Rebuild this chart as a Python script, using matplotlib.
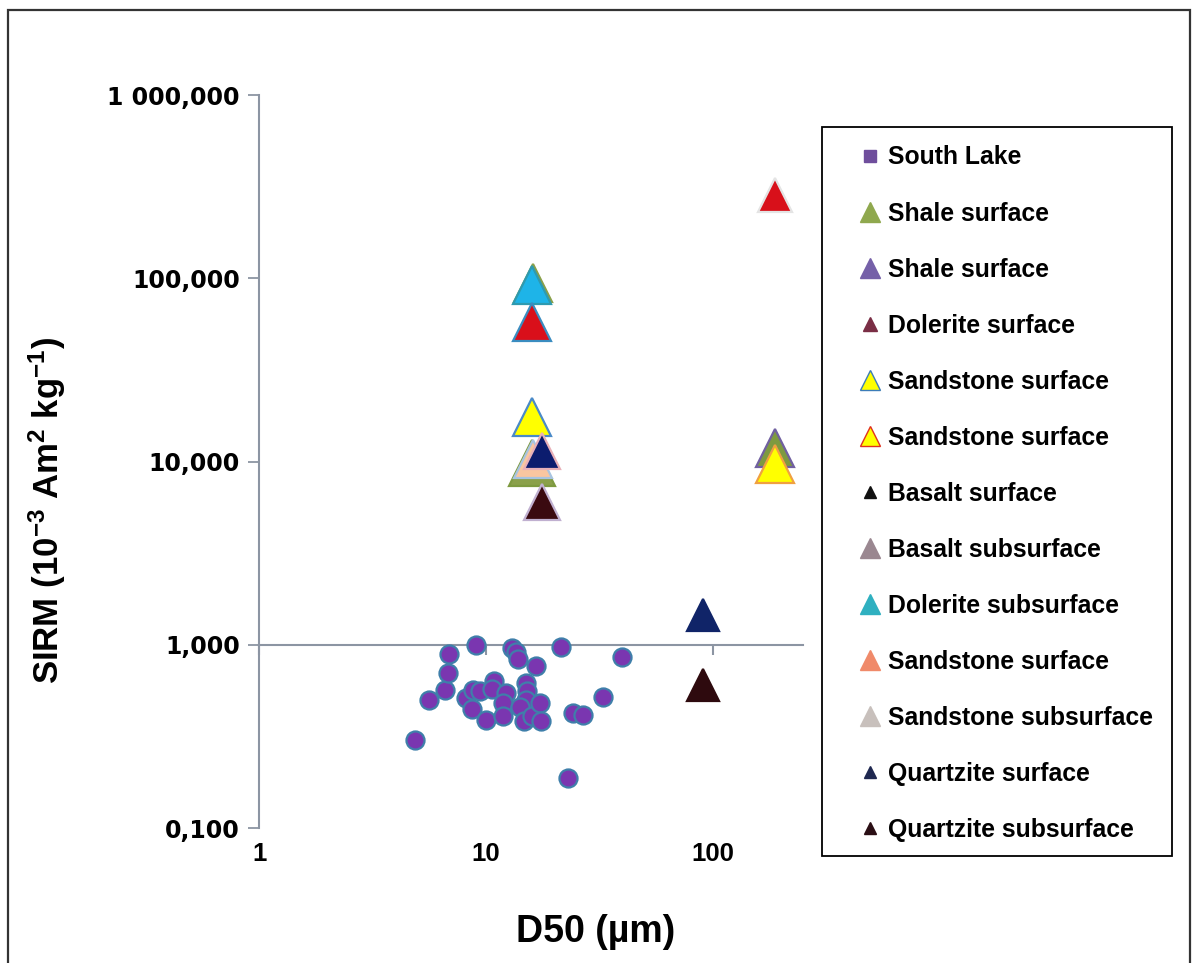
import matplotlib
matplotlib.use("Agg")
import matplotlib.pyplot as plt
from matplotlib.lines import Line2D
from matplotlib.patches import Rectangle
from matplotlib.ticker import NullLocator

plt.rcParams['mathtext.fontset'] = 'custom'
plt.rcParams['mathtext.rm'] = 'Liberation Sans:bold'
plt.rcParams['mathtext.it'] = 'Liberation Sans:bold'
plt.rcParams['mathtext.bf'] = 'Liberation Sans:bold'

# South Lake sediments (D50 in um, SIRM)
lake_d50 = [4.85, 5.63, 6.56, 6.79, 6.90, 9.05, 8.18, 8.66, 8.75, 9.43,
            9.95, 10.79, 10.65, 12.24, 11.83, 11.88, 13.01, 13.60, 13.83, 16.66,
            15.01, 15.16, 15.01, 14.16, 14.75, 15.95, 17.23, 17.53, 21.48, 24.19,
            26.78, 22.99, 32.81, 39.65]
lake_sirm = [0.303, 0.50, 0.568, 0.70, 0.89, 1.0, 0.515, 0.445, 0.568, 0.561,
             0.389, 0.636, 0.573, 0.544, 0.480, 0.409, 0.96, 0.919, 0.835, 0.771,
             0.622, 0.563, 0.50, 0.46, 0.384, 0.409, 0.484, 0.384, 0.979, 0.423,
             0.414, 0.189, 0.518, 0.857]

# rock samples, in drawing order
rock_d50 = [16.1, 16.0, 16.0, 16.0, 16.0, 16.1, 17.6, 17.6, 189, 189, 189, 90.7, 90.7]
rock_sirm = [94.5, 9.87, 92.0, 57.5, 17.5, 10.3, 11.5, 6.04, 284, 11.9, 9.67, 1.46, 0.606]
rock_fill = ['#8AA04A', '#8AA04A', '#1EB4E8', '#D90F1A', '#FFFF00', '#F9C6A0',
             '#0C1C6E', '#3A0A10', '#D8101A', '#7E9A40', '#FFFF00', '#102468', '#2E0A0E']
rock_edge = ['#8AA04A', '#7E9A40', '#2E9AB0', '#3A8CC0', '#4A8AC8', '#A8C4E0',
             '#E8B0B8', '#C0B0D0', '#E4E4E4', '#7060A0', '#F0A040', '#102468', '#2E0A0E']
rock_size = [28, 33, 27, 27, 27, 28, 26, 26, 24, 28, 27, 23, 23]

legend_labels = ['South Lake', 'Shale surface', 'Shale surface', 'Dolerite surface',
                 'Sandstone surface', 'Sandstone surface', 'Basalt surface',
                 'Basalt subsurface', 'Dolerite subsurface', 'Sandstone surface',
                 'Sandstone subsurface', 'Quartzite surface', 'Quartzite subsurface']
legend_fill = ['#6F4E9C', '#8FA84E', '#7560A8', '#7A2E45', '#FFFF00', '#FFFF00',
               '#111111', '#9A8790', '#2FB0C0', '#F08A6A', '#C8C0BC', '#1F2850', '#2A0E14']
legend_edge = ['#6F4E9C', '#8FA84E', '#7560A8', '#7A2E45', '#3C7CB8', '#E03020',
               '#111111', '#9A8790', '#2FB0C0', '#F08A6A', '#C8C0BC', '#1F2850', '#2A0E14']
legend_marker = ['s', '^', '^', '^', '^', '^', '^', '^', '^', '^', '^', '^', '^']
legend_size = [9, 14, 14, 10, 14, 14, 9, 14, 14, 14, 14, 9, 9]

xtick_values = [1, 10, 100]
xtick_labels = ['1', '10', '100']
ytick_values = [0.1, 1, 10, 100, 1000]
ytick_labels = ['0,100', '1,000', '10,000', '100,000', '1 000,000']

axis_grey = '#8C95A3'
label_font = 'Liberation Sans'

fig = plt.figure(figsize=(12, 9.63), dpi=100)
ax = fig.add_axes([259.3 / 1200, 1 - 828.3 / 963, (803 - 259.3) / 1200, (828.3 - 95) / 963])
ax.set_xscale('log')
ax.set_yscale('log')
ax.set_xlim(1, 250)
ax.set_ylim(0.1, 1000)

ax.scatter(lake_d50, lake_sirm, s=13 ** 2, marker='o', facecolor='#7A36B0',
           edgecolor='#3F7FAA', linewidth=1.6, zorder=3)
for x, y, fc, ec, ms in zip(rock_d50, rock_sirm, rock_fill, rock_edge, rock_size):
    ax.plot(x, y, ls='none', marker='^', ms=ms, mfc=fc, mec=ec, mew=1.6, zorder=4)

ax.spines['top'].set_visible(False)
ax.spines['right'].set_visible(False)
ax.spines['bottom'].set_position(('data', 1))
for side in ('left', 'bottom'):
    ax.spines[side].set_color(axis_grey)
    ax.spines[side].set_linewidth(1.5)
    ax.spines[side].set_zorder(2)

ax.set_xticks(xtick_values)
ax.xaxis.set_minor_locator(NullLocator())
ax.tick_params(axis='x', direction='out', length=7, width=1.5, color=axis_grey,
               labelbottom=False)
ax.set_yticks(ytick_values, labels=ytick_labels)
ax.yaxis.set_minor_locator(NullLocator())
ax.tick_params(axis='y', direction='out', length=8, width=1.3, color=axis_grey,
               pad=6, labelsize=17)
for lbl in ax.get_yticklabels():
    lbl.set_fontweight('bold')
    lbl.set_fontfamily('DejaVu Sans')

sec = ax.secondary_xaxis('bottom')
sec.set_xticks(xtick_values, labels=xtick_labels)
sec.xaxis.set_minor_locator(NullLocator())
sec.tick_params(length=0, pad=10, labelsize=18.5)
sec.spines['bottom'].set_visible(False)
for lbl in sec.get_xticklabels():
    lbl.set_fontweight('bold')
    lbl.set_fontfamily(label_font)

fig.text(596 / 1200, 1 - 932 / 963, 'D50 (µm)', ha='center', va='center',
         fontsize=27, fontweight='bold', family=label_font)
fig.text(47 / 1200, 1 - 510 / 963, r'SIRM (10$^{-3}$ Am$^{2}$ kg$^{-1}$)',
         ha='center', va='center', rotation=90, fontsize=25, fontweight='bold',
         family=label_font)

handles = [Line2D([], [], ls='none', marker=m, ms=s, mfc=fc, mec=ec, mew=1.0)
           for m, s, fc, ec in zip(legend_marker, legend_size, legend_fill, legend_edge)]
leg = fig.legend(handles, legend_labels, loc='upper left',
                 bbox_to_anchor=(857.5 / 1200, 1 - 145.5 / 963), frameon=False,
                 prop={'family': label_font, 'weight': 'bold', 'size': 17.8},
                 labelspacing=1.296, borderpad=0, borderaxespad=0,
                 handlelength=1.05, handletextpad=0.2)

fig.add_artist(Rectangle((822 / 1200, 1 - 856 / 963), 350 / 1200, 729 / 963,
                         transform=fig.transFigure, fill=False, edgecolor='black',
                         linewidth=1.3))
fig.add_artist(Rectangle((8 / 1200, -0.01), 1182 / 1200, 1.01 - 10.5 / 963,
                         transform=fig.transFigure, fill=False, edgecolor='#333333',
                         linewidth=1.6))

fig.savefig('out.png', dpi=100)
